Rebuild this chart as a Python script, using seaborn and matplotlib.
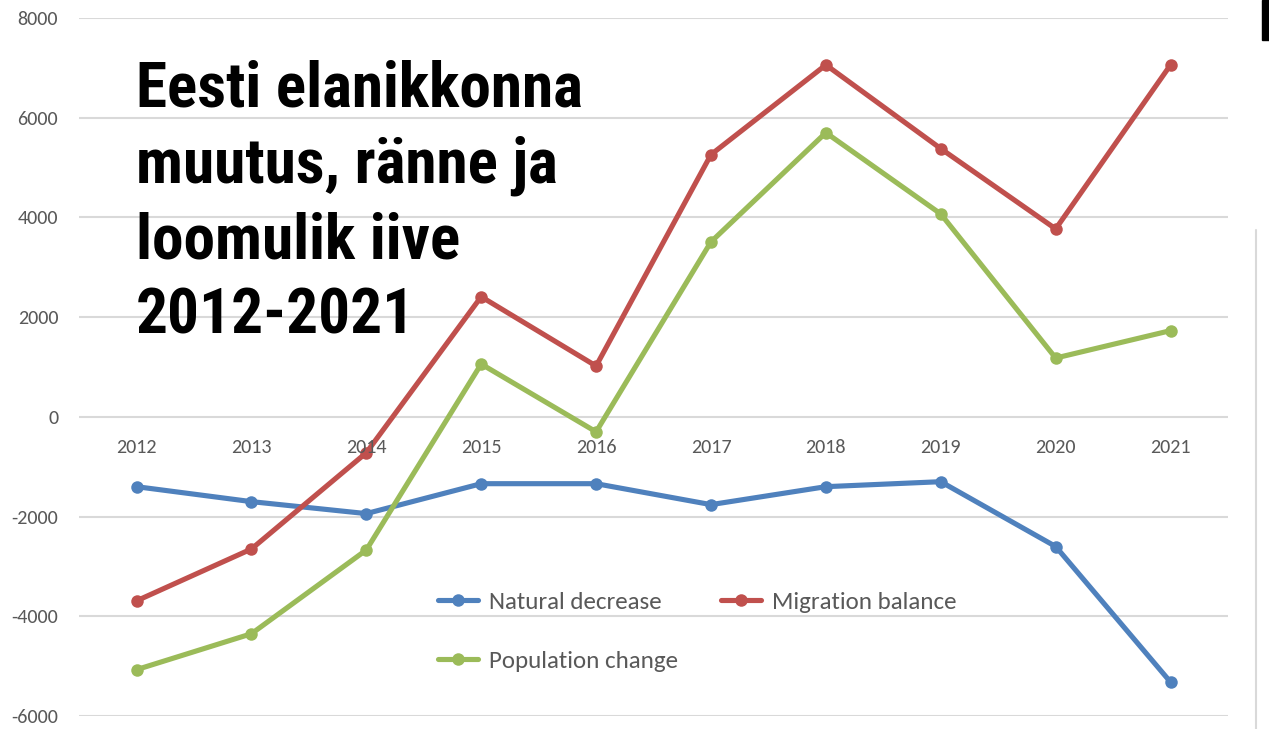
import numpy as np
import pandas as pd
import matplotlib
matplotlib.use("Agg")
import matplotlib.pyplot as plt
import seaborn as sns
from matplotlib.lines import Line2D
from matplotlib.patches import Rectangle

years = ["2012", "2013", "2014", "2015", "2016", "2017", "2018", "2019", "2020", "2021"]
natural_decrease = [-1400, -1700, -1940, -1340, -1340, -1760, -1400, -1300, -2600, -5320]
migration_balance = [-3690, -2650, -720, 2410, 1020, 5260, 7060, 5380, 3770, 7060]
population_change = [-5070, -4350, -2670, 1060, -300, 3510, 5700, 4070, 1180, 1730]
series_names = ["Natural decrease", "Migration balance", "Population change"]
colors = ["#4F81BD", "#C0504D", "#9BBB59"]
yticks = [-6000, -4000, -2000, 0, 2000, 4000, 6000, 8000]
title = "Eesti elanikkonna\nmuutus, ränne ja\nloomulik iive\n2012-2021"

sns.set_style("white")
plt.rcParams["font.family"] = ["Carlito", "DejaVu Sans"]

df = pd.DataFrame({
    "idx": list(range(len(years))) * 3,
    "value": natural_decrease + migration_balance + population_change,
    "series": sum([[n] * len(years) for n in series_names], []),
})

fig = plt.figure(figsize=(12.69, 7.29), dpi=100)
ax = fig.add_axes([0.0623, 0.0178, 0.9054, 0.9575])

sns.lineplot(data=df, x="idx", y="value", hue="series", hue_order=series_names,
             palette=colors, marker="o", markersize=9, markeredgewidth=0,
             linewidth=3.7, ax=ax, legend=False, zorder=3)

ax.set_xlim(-0.5, len(years) - 0.5)
ax.set_ylim(-6000, 8000)
ax.set_yticks(yticks)
ax.set_yticklabels([str(v) for v in yticks], color="#595959", fontsize=14.5)
ax.tick_params(axis="y", length=0, pad=15)
ax.set_xticks([])
ax.set_xlabel("")
ax.set_ylabel("")
for s in ax.spines.values():
    s.set_visible(False)
ax.grid(axis="y", color="#D9D9D9", linewidth=1.5)
ax.set_axisbelow(True)

for i, y in enumerate(years):
    ax.text(i, -620, y, ha="center", va="center", fontsize=14.5, color="#595959")

# legend: row 1 = Natural decrease, Migration balance; row 2 = Population change
order = [0, 2, 1]
handles = [Line2D([0], [0], color=colors[k], linewidth=3.7, marker="o", markersize=9,
                  markeredgewidth=0) for k in order]
labels = [series_names[k] for k in order]
fig.legend(handles, labels, loc="upper left", bbox_to_anchor=(0.3275, 0.22),
           ncol=2, frameon=False, fontsize=18, handlelength=1.6,
           handletextpad=0.45, columnspacing=1.7, labelspacing=1.52,
           labelcolor="#595959")

fig.text(0.107, 0.918, title, ha="left", va="top", fontsize=45.5, fontweight="bold",
         color="black", family=["Roboto Condensed", "Liberation Sans", "DejaVu Sans"],
         linespacing=1.33)

fig.add_artist(Rectangle((1262 / 1269, 1 - 40 / 729), 7 / 1269, 40 / 729,
                         transform=fig.transFigure, color="black"))
fig.add_artist(Line2D([1256 / 1269, 1256 / 1269], [0, 1 - 230 / 729],
                      transform=fig.transFigure, color="#D9D9D9", linewidth=1.5))

fig.savefig("out.png", dpi=100)
